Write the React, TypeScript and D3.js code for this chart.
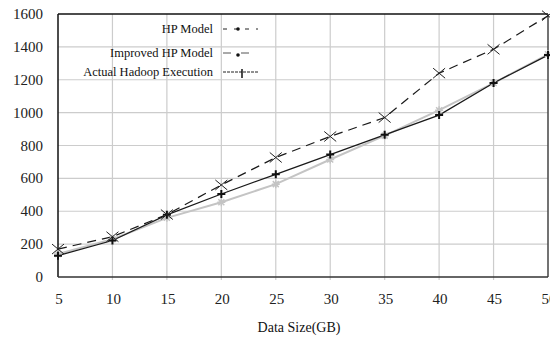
import React, { useEffect, useRef } from 'react';
import * as d3 from 'd3';

const dataSizes = [5, 10, 15, 20, 25, 30, 35, 40, 45, 50];
const hpModel = [170, 245, 380, 560, 727, 855, 970, 1240, 1385, 1590];
const improvedHp = [140, 230, 360, 455, 565, 715, 860, 1015, 1180, 1355];
const actualHadoop = [130, 222, 378, 505, 625, 745, 865, 985, 1180, 1350];
const yTicks = [0, 200, 400, 600, 800, 1000, 1200, 1400, 1600];
const legendLabels = ['HP Model', 'Improved HP Model', 'Actual Hadoop Execution'];

const W = 550;
const H = 341;
const margin = { top: 14, right: 2, bottom: 64, left: 58 };
const font = '"Liberation Serif", "Times New Roman", serif';

const App = () => {
  const svgRef = useRef<SVGSVGElement>(null);

  useEffect(() => {
    if (!svgRef.current) return;
    const svg = d3.select(svgRef.current);
    svg.selectAll('*').remove();

    const x = d3.scaleLinear().domain([5, 50]).range([margin.left, W - margin.right]);
    const y = d3.scaleLinear().domain([0, 1600]).range([H - margin.bottom, margin.top]);

    // grid
    svg.append('g')
      .selectAll('line')
      .data(dataSizes.slice(1, -1))
      .enter().append('line')
      .attr('x1', d => x(d)).attr('x2', d => x(d))
      .attr('y1', y(1600)).attr('y2', y(0) + 3)
      .attr('stroke', '#cccccc').attr('stroke-width', 1.2);
    svg.append('g')
      .selectAll('line')
      .data(yTicks.slice(1, -1))
      .enter().append('line')
      .attr('x1', x(5)).attr('x2', x(50))
      .attr('y1', d => y(d)).attr('y2', d => y(d))
      .attr('stroke', '#cccccc').attr('stroke-width', 1.2);

    // frame
    svg.append('line').attr('x1', x(5)).attr('x2', x(50)).attr('y1', y(1600)).attr('y2', y(1600))
      .attr('stroke', '#111').attr('stroke-width', 1.5);
    svg.append('line').attr('x1', x(50)).attr('x2', x(50)).attr('y1', y(1600)).attr('y2', y(0))
      .attr('stroke', '#444').attr('stroke-width', 1.5);
    svg.append('line').attr('x1', x(5)).attr('x2', x(5)).attr('y1', y(1600)).attr('y2', y(0))
      .attr('stroke', '#111').attr('stroke-width', 1.5);
    svg.append('line').attr('x1', x(5)).attr('x2', x(50)).attr('y1', y(0)).attr('y2', y(0))
      .attr('stroke', '#333').attr('stroke-width', 1.5);

    // tick labels
    svg.append('g')
      .selectAll('text')
      .data(yTicks)
      .enter().append('text')
      .attr('x', 43)
      .attr('y', d => y(d) + 5)
      .attr('text-anchor', 'end')
      .style('font-family', font)
      .style('font-size', '15px')
      .style('fill', '#222')
      .text(d => d);
    svg.append('g')
      .selectAll('text')
      .data(dataSizes)
      .enter().append('text')
      .attr('x', d => x(d) + 1)
      .attr('y', 304)
      .attr('text-anchor', 'middle')
      .style('font-family', font)
      .style('font-size', '15px')
      .style('fill', '#222')
      .text(d => d);
    svg.append('text')
      .attr('x', 299).attr('y', 332)
      .attr('text-anchor', 'middle')
      .style('font-family', font)
      .style('font-size', '14px')
      .style('fill', '#111')
      .text('Data Size(GB)');

    const line = d3.line<number>()
      .x((d, i) => x(dataSizes[i]))
      .y(d => y(d));

    // improved HP model (light gray)
    svg.append('path').datum(improvedHp)
      .attr('d', line).attr('fill', 'none')
      .attr('stroke', '#c4c4c4').attr('stroke-width', 2);
    // actual hadoop execution
    svg.append('path').datum(actualHadoop)
      .attr('d', line).attr('fill', 'none')
      .attr('stroke', '#1a1a1a').attr('stroke-width', 1.3);
    // HP model dashed
    svg.append('path').datum(hpModel)
      .attr('d', line).attr('fill', 'none')
      .attr('stroke', '#1a1a1a').attr('stroke-width', 1.2)
      .attr('stroke-dasharray', '9,6');

    // markers
    svg.append('g').selectAll('path')
      .data(improvedHp)
      .enter().append('path')
      .attr('d', (d, i) => {
        const cx = x(dataSizes[i]), cy = y(d);
        return `M${cx - 4},${cy}L${cx + 4},${cy}M${cx},${cy - 4}L${cx},${cy + 4}M${cx - 3},${cy - 3}L${cx + 3},${cy + 3}M${cx - 3},${cy + 3}L${cx + 3},${cy - 3}`;
      })
      .attr('stroke', '#c4c4c4').attr('stroke-width', 1.5);
    svg.append('g').selectAll('path')
      .data(actualHadoop)
      .enter().append('path')
      .attr('d', (d, i) => {
        const cx = x(dataSizes[i]), cy = y(d);
        return `M${cx - 4},${cy}L${cx + 4},${cy}M${cx},${cy - 4}L${cx},${cy + 4}`;
      })
      .attr('stroke', '#111').attr('stroke-width', 2);
    svg.append('g').selectAll('path')
      .data(hpModel)
      .enter().append('path')
      .attr('d', (d, i) => {
        const cx = x(dataSizes[i]), cy = y(d);
        return `M${cx - 6},${cy - 5}L${cx + 6},${cy + 5}M${cx - 6},${cy + 5}L${cx + 6},${cy - 5}`;
      })
      .attr('stroke', '#222').attr('stroke-width', 1);

    // legend
    const legendY = [29, 53, 72];
    const lg = svg.append('g');
    lg.selectAll('text')
      .data(legendLabels)
      .enter().append('text')
      .attr('x', 213)
      .attr('y', (d, i) => legendY[i] + 4)
      .attr('text-anchor', 'end')
      .style('font-family', font)
      .style('font-size', '12.5px')
      .style('fill', '#111')
      .text(d => d);
    const dashes = ['4,7', '8,10', '3,1'];
    legendLabels.forEach((d, i) => {
      lg.append('line')
        .attr('x1', 223).attr('x2', 258)
        .attr('y1', legendY[i]).attr('y2', legendY[i])
        .attr('stroke', i === 1 ? '#555' : '#222').attr('stroke-width', 1)
        .attr('stroke-dasharray', dashes[i]);
      if (i < 2) {
        lg.append('circle').attr('cx', 238).attr('cy', legendY[i] + (i === 1 ? 2 : 0))
          .attr('r', 1.8).attr('fill', '#111');
      } else {
        lg.append('line').attr('x1', 242).attr('x2', 242)
          .attr('y1', legendY[i] - 3).attr('y2', legendY[i] + 6)
          .attr('stroke', '#111').attr('stroke-width', 1.5);
      }
    });
  }, []);

  return (
    <div style={{ position: 'absolute', left: 0, top: 0, width: W, height: H, background: '#fff' }}>
      <svg ref={svgRef} width={W} height={H}></svg>
    </div>
  );
};

export default App;
